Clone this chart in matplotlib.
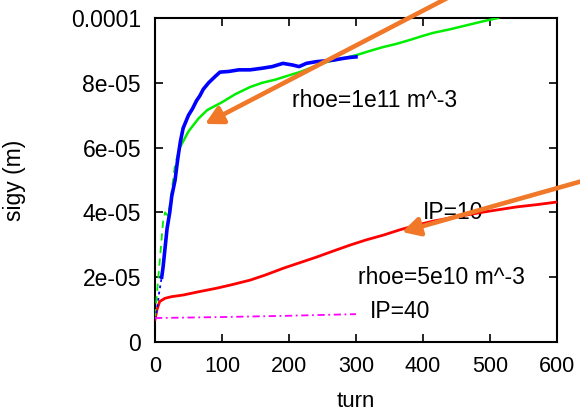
import matplotlib
matplotlib.use("Agg")
import matplotlib.pyplot as plt

plt.rcParams['font.family'] = ['Liberation Sans', 'DejaVu Sans']

# Blue: rhoe=1e11, IP=10 (up to 300 turns)
blue_turn_early = [0, 3, 6, 10]
blue_val_early = [7e-6, 10e-6, 15e-6, 20e-6]
blue_turn = [10, 12, 15, 18, 22, 25, 27, 30, 33, 35, 38, 42, 46, 50, 56, 62, 67, 72, 80, 90, 97, 110,
             125, 142, 160, 175, 191, 205, 215, 226, 240, 255, 266, 280, 290, 300]
blue_val = [20e-6, 23e-6, 29e-6, 35e-6, 40e-6, 45e-6, 47e-6, 50e-6, 55e-6, 58e-6, 62e-6, 66e-6, 68e-6,
            70e-6, 72e-6, 74.5e-6, 76e-6, 78e-6, 80e-6, 82e-6, 83.3e-6, 83.5e-6,
            84e-6, 84e-6, 84.5e-6, 85e-6, 86e-6, 85.5e-6, 85e-6, 86e-6, 86.5e-6, 86.8e-6, 87e-6, 87.5e-6, 87.8e-6, 88e-6]

# Green: rhoe=1e11, IP=40 (up to ~510 turns)
green_turn_early = [0, 5, 12, 15, 19, 22, 27, 30, 37]
green_val_early = [8e-6, 20e-6, 37e-6, 40e-6, 39e-6, 42e-6, 50e-6, 55e-6, 60e-6]
green_turn = [37, 50, 65, 78, 100, 120, 142, 160, 180, 200, 216, 235, 256, 280, 300, 320, 340,
              360, 380, 400, 415, 440, 460, 490, 512]
green_val = [60e-6, 65e-6, 69e-6, 71.6e-6, 74e-6, 76.5e-6, 78.7e-6, 80e-6, 81e-6, 82.3e-6, 83.3e-6,
             84.8e-6, 86.4e-6, 87.5e-6, 88.5e-6, 89.8e-6, 91e-6, 92e-6, 93.2e-6, 94.5e-6, 95.4e-6,
             96.5e-6, 97.5e-6, 99e-6, 100e-6]

# Red: rhoe=5e10, IP=10
red_turn = [0, 3, 7, 15, 25, 42, 65, 92, 115, 142, 165, 192, 215, 241, 265, 291, 315, 341, 365,
            391, 415, 441, 465, 490, 515, 540, 570, 600]
red_val = [7e-6, 10e-6, 12.5e-6, 13.5e-6, 14e-6, 14.5e-6, 15.5e-6, 16.6e-6, 17.7e-6, 19.1e-6,
           20.7e-6, 22.8e-6, 24.4e-6, 26.2e-6, 28e-6, 29.9e-6, 31.5e-6, 33e-6, 34.6e-6,
           36.1e-6, 37.3e-6, 38.3e-6, 39.2e-6, 40.1e-6, 40.9e-6, 41.7e-6, 42.4e-6, 43.2e-6]

# Magenta: rhoe=5e10, IP=40
mag_turn = [0, 100, 200, 300]
mag_val = [7.4e-6, 7.7e-6, 8.1e-6, 8.6e-6]

x_ticks = [0, 100, 200, 300, 400, 500, 600]
y_ticks = [0, 2e-5, 4e-5, 6e-5, 8e-5, 1e-4]
y_tick_labels = ['0', '2e-05', '4e-05', '6e-05', '8e-05', '0.0001']

fig = plt.figure(figsize=(5.8, 4.13), dpi=100)
ax = fig.add_axes([155/580, 71/413, 402/580, 324/413])

ax.plot(red_turn, red_val, color='#ff0000', lw=2.0, solid_joinstyle='round', zorder=3)
ax.plot(green_turn_early, green_val_early, color='#00ee00', lw=1.3, ls=(0, (4, 3)), zorder=3)
ax.plot(green_turn, green_val, color='#00ee00', lw=1.8, zorder=3)
ax.plot(blue_turn_early, blue_val_early, color='#0000ff', lw=1.3, ls=(0, (1.5, 2)), zorder=3)
ax.plot(blue_turn, blue_val, color='#0000ff', lw=2.6, zorder=3)
ax.plot(mag_turn, mag_val, color='#ff00ff', lw=1.3, ls=(0, (4, 2, 1, 2)), zorder=3)

ax.set_xlim(0, 600)
ax.set_ylim(0, 1e-4)
ax.set_xticks(x_ticks)
ax.set_xticklabels([str(t) for t in x_ticks])
ax.set_yticks(y_ticks)
ax.set_yticklabels(y_tick_labels)
ax.tick_params(direction='in', top=True, right=True, length=6, width=1.2, pad=10)
ax.tick_params(axis='x', labelsize=15.5)
ax.tick_params(axis='y', labelsize=16.5)
for s in ax.spines.values():
    s.set_linewidth(1.5)

ax.set_xlabel('turn', fontsize=16, labelpad=10)
ax.set_ylabel('sigy (m)', fontsize=16.5)
ax.yaxis.set_label_coords(-0.322, 0.5)

fs = 16.5
ax.text(327, 74.5e-6, 'rhoe=1e11 m^-3', fontsize=fs, ha='center', va='center', zorder=1)
ax.text(445, 40e-6, 'IP=10', fontsize=fs, ha='center', va='center', zorder=1)
ax.text(428, 19.8e-6, 'rhoe=5e10 m^-3', fontsize=fs, ha='center', va='center', zorder=1)
ax.text(366, 9.3e-6, 'IP=40', fontsize=fs, ha='center', va='center', zorder=1)

orange = '#f07828'
H = 413
arrow_style = '-|>,head_length=0.75,head_width=0.4'
ax.annotate('', xy=(205, H - 124), xytext=(455, H + 6), xycoords='figure pixels',
            textcoords='figure pixels', annotation_clip=False, zorder=5,
            arrowprops=dict(arrowstyle=arrow_style, lw=3.3,
                            color=orange, mutation_scale=14, shrinkA=0, shrinkB=0))
ax.annotate('', xy=(402, H - 232), xytext=(600, H - 176), xycoords='figure pixels',
            textcoords='figure pixels', annotation_clip=False, zorder=5,
            arrowprops=dict(arrowstyle=arrow_style, lw=3.3,
                            color=orange, mutation_scale=14, shrinkA=0, shrinkB=0))

fig.savefig('out.png', dpi=100)
